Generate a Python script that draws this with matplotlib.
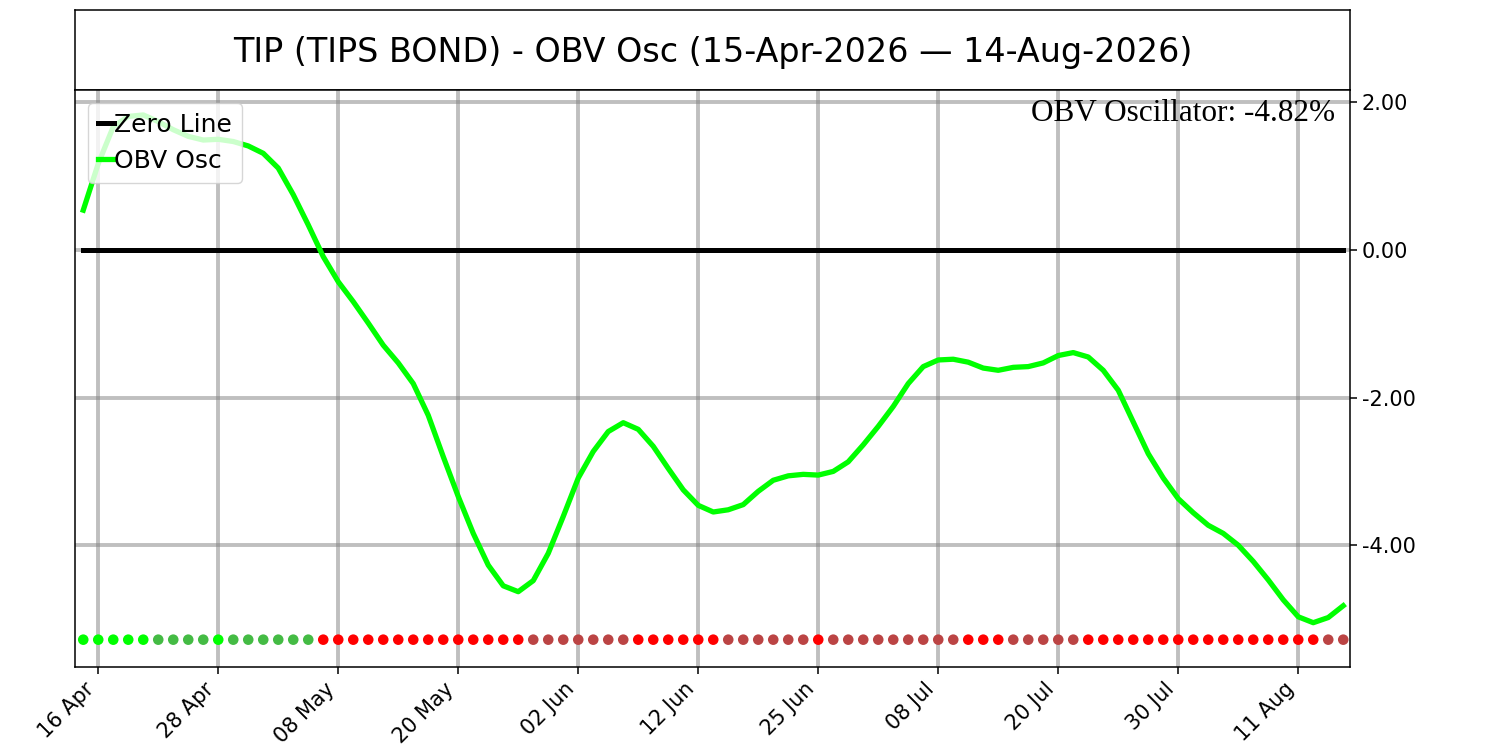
import matplotlib
matplotlib.use("Agg")
import matplotlib.pyplot as plt
import numpy as np

# --- data (one value per trading day, 15 Apr -> 14 Aug 2026) ---
obv_osc = [
    0.54, 1.17, 1.67, 1.81, 1.83, 1.74, 1.63, 1.54, 1.49, 1.50,
    1.47, 1.41, 1.31, 1.11, 0.75, 0.34, -0.09, -0.43, -0.70, -0.99,
    -1.29, -1.53, -1.81, -2.24, -2.80, -3.34, -3.84, -4.27, -4.55, -4.63,
    -4.48, -4.11, -3.61, -3.09, -2.73, -2.46, -2.34, -2.43, -2.66, -2.96,
    -3.25, -3.46, -3.55, -3.52, -3.45, -3.27, -3.12, -3.06, -3.04, -3.05,
    -3.00, -2.87, -2.64, -2.39, -2.12, -1.81, -1.58, -1.49, -1.48, -1.52,
    -1.60, -1.63, -1.59, -1.58, -1.53, -1.43, -1.39, -1.45, -1.63, -1.90,
    -2.33, -2.76, -3.09, -3.37, -3.56, -3.73, -3.84, -4.00, -4.22, -4.47,
    -4.74, -4.97, -5.05, -4.98, -4.82,
]

# state of each day: L = above zero & rising, g = above zero & falling,
# R = below zero & falling, b = below zero & rising
day_state = ("LLLLLggggLgggggg" "RRRRRRRRRRRRRR" "bbbbbbb" "RRRRRR" "bbbbbb"
             "R" "bbbbbbbbb" "RRR" "bbbbb" "RRRRRRRRRRRRRRRR" "bb")

tick_labels = ["16 Apr", "28 Apr", "08 May", "20 May", "02 Jun", "12 Jun",
               "25 Jun", "08 Jul", "20 Jul", "30 Jul", "11 Aug"]

title = "TIP (TIPS BOND) - OBV Osc (15-Apr-2026 \u2014 14-Aug-2026)"
last_value = obv_osc[-1]

state_colors = {"L": "#00ff00", "g": "#44bb44", "R": "#ff0000", "b": "#bb4444"}

x = np.arange(len(obv_osc))

fig = plt.figure(figsize=(15, 7.5), dpi=100)

# title box on top
ax_t = fig.add_axes([0.05, 0.88, 0.85, 0.1067])
ax_t.set_xticks([])
ax_t.set_yticks([])
ax_t.text(0.5, 0.47, title, ha="center", va="center", fontsize=24,
          transform=ax_t.transAxes)

# main panel
ax = fig.add_axes([0.05, 0.1107, 0.85, 0.7693])
ax.plot(x, np.zeros(len(x)), color="black", lw=3.6, label="Zero Line", zorder=3)
ax.plot(x, obv_osc, color="#00ff00", lw=3.8, label="OBV Osc", zorder=4)
ax.scatter(x, np.full(len(x), -5.28), c=[state_colors[s] for s in day_state],
           s=58, zorder=3, linewidths=0)

ax.set_xlim(-0.55, len(x) - 0.55)
ax.set_ylim(-5.65, 2.168)
ax.set_yticks([-4, -2, 0, 2])
ax.yaxis.set_major_formatter(matplotlib.ticker.FormatStrFormatter("%.2f"))
ax.yaxis.tick_right()
ax.set_xticks(range(1, len(x), 8))
ax.set_xticklabels(tick_labels, rotation=45, ha="right")
ax.tick_params(labelsize=15, length=5, width=1.1)
for sp in ax.spines.values():
    sp.set_linewidth(1.1)
for sp in ax_t.spines.values():
    sp.set_linewidth(1.1)
ax.grid(True, color="gray", alpha=0.5, lw=2.8, zorder=0)
ax.set_axisbelow(True)

ax.text(0.988, 0.985, f"OBV Oscillator: {last_value:.2f}%", ha="right", va="top",
        transform=ax.transAxes, fontsize=22.5, family="Liberation Serif", zorder=5)

leg = ax.legend(loc="upper left", fontsize=18, handlelength=0.65,
                handletextpad=0.0, borderaxespad=0.5)

fig.savefig("out.png", dpi=100)
